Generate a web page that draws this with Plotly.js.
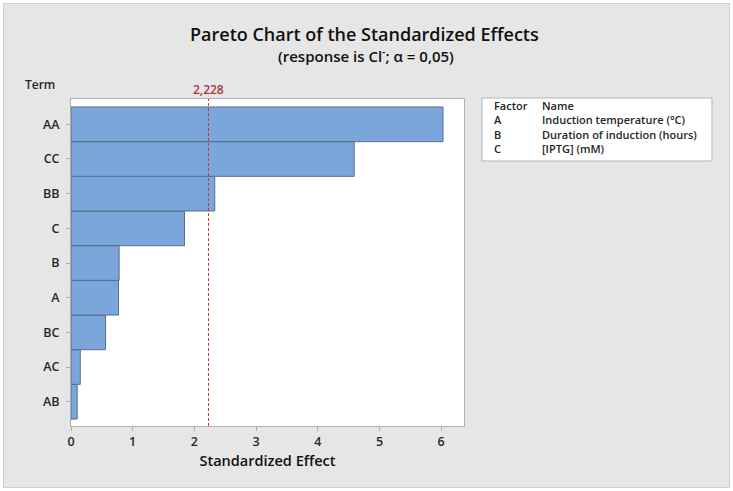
<!DOCTYPE html>
<html><head><meta charset="utf-8">
<script src="https://cdn.plot.ly/plotly-3.0.1.min.js"></script>
<style>
html,body{margin:0;padding:0;background:#fff;}
#wrap{position:relative;width:733px;height:491px;}
#chart{width:733px;height:491px;}
#frame{position:absolute;left:0;top:0;width:733px;height:491px;box-sizing:border-box;border:3px solid #fff;pointer-events:none;}
#frame2{position:absolute;left:3px;top:3px;width:727px;height:485px;box-sizing:border-box;border:1px solid #d0d0d0;pointer-events:none;}
</style></head>
<body>
<div id="wrap"><div id="chart"></div><div id="frame"></div><div id="frame2"></div></div>
<script>
// Terms ordered from bottom to top
const terms = ["AB","AC","BC","A","B","C","BB","CC","AA"];
const effects = [0.10, 0.15, 0.56, 0.77, 0.78, 1.84, 2.33, 4.59, 6.03];
const refValue = 2.228;
const refLabel = "2,228";
const xTicks = [0,1,2,3,4,5,6];
const factorLetters = ["A","B","C"];
const factorNames = ["Induction temperature (°C)","Duration of induction (hours)","[IPTG] (mM)"];

const W=733,H=491,ML=71,MR=269,MT=99,MB=65;
const PW=W-ML-MR, PH=H-MT-MB;
const px=x=>(x-ML)/PW, py=y=>(H-MB-y)/PH;
const FONT='"Open Sans", "Noto Sans", sans-serif';
const TXT='#262626';

function ann(text,x,y,size,opts){
 return Object.assign({text:text,x:px(x),y:py(y),xref:'paper',yref:'paper',xanchor:'center',yanchor:'middle',showarrow:false,
  font:{family:FONT,size:size,color:TXT,weight:600}},opts||{});
}
const annotations=[
 ann("Pareto Chart of the Standardized Effects",364,34,18,{font:{family:FONT,size:18,color:'#111',weight:600}}),
 ann("(response is Cl<sup>-</sup>; α = 0,05)",366,55,15,{font:{family:FONT,size:15,color:'#111',weight:600}}),
 ann("Term",40,85,12),
 {text:refLabel,x:refValue,xref:'x',y:py(89),yref:'paper',xanchor:'center',yanchor:'middle',showarrow:false,font:{family:FONT,size:12,color:'#a33a3a',weight:600}},
 ann("Factor",492,105,11,{xanchor:'left'}),
 ann("Name",540,105,11,{xanchor:'left'})
];
const rowY=[119,134,148];
factorLetters.forEach((f,i)=>{
 annotations.push(ann(f,492,rowY[i],11,{xanchor:'left'}));
 annotations.push(ann(factorNames[i],540,rowY[i],11,{xanchor:'left'}));
});

const shapes=[
 {type:'line',xref:'x',yref:'paper',x0:refValue,x1:refValue,y0:0,y1:1,line:{color:'#c0392b',width:1,dash:'3px,2px'}},
 {type:'rect',xref:'paper',yref:'paper',x0:px(482),x1:px(712),y0:py(98),y1:py(161),fillcolor:'#fff',line:{color:'#b5b5b5',width:1},layer:'below'}
];

Plotly.newPlot('chart',[{
 type:'bar',orientation:'h',x:effects,y:terms,
 marker:{color:'#7aa6db',line:{color:'#5a6e88',width:1}},
 hoverinfo:'x+y'
}],{
 width:W,height:H,margin:{l:ML,r:MR,t:MT,b:MB,pad:0},
 paper_bgcolor:'#e6e6e6',plot_bgcolor:'#fff',
 bargap:0,showlegend:false,
 xaxis:{range:[0,6.37],tickvals:xTicks,ticktext:xTicks.map(String),showgrid:false,zeroline:false,
   showline:true,mirror:true,linecolor:'#b0b0b0',linewidth:1,ticks:'outside',ticklen:4,tickcolor:'#b0b0b0',
   tickfont:{family:FONT,size:12.5,color:TXT,weight:600},
   title:{text:'Standardized Effect',standoff:6,font:{family:FONT,size:14.5,color:'#111',weight:600}}},
 yaxis:{type:'category',categoryorder:'array',categoryarray:terms,range:[-0.7,8.73],showgrid:false,zeroline:false,
   showline:true,mirror:true,linecolor:'#b0b0b0',linewidth:1,ticks:'outside',ticklen:4,tickcolor:'#b0b0b0',
   ticklabelstandoff:4,tickfont:{family:FONT,size:12.5,color:TXT,weight:600}},
 annotations:annotations,shapes:shapes
},{staticPlot:true});
</script></body></html>
